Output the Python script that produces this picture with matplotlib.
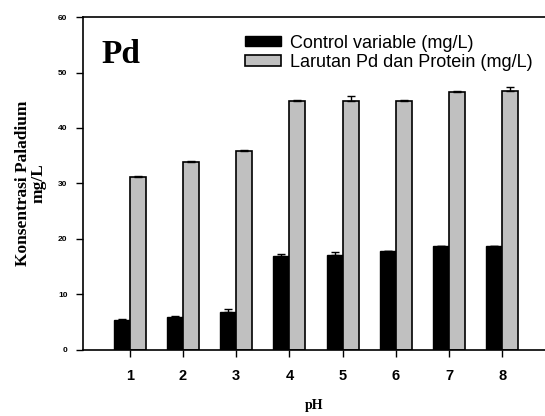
import numpy as np
import matplotlib
matplotlib.use('Agg')
import matplotlib.pyplot as plt

ph = [1, 2, 3, 4, 5, 6, 7, 8]
control = [5.4, 6.0, 6.8, 17.0, 17.1, 17.8, 18.7, 18.7]
control_err = [0.1, 0.1, 0.6, 0.2, 0.5, 0.1, 0.1, 0.1]
larutan = [31.1, 33.8, 35.9, 44.9, 44.9, 44.9, 46.4, 46.7]
larutan_err = [0.2, 0.3, 0.1, 0.2, 0.9, 0.2, 0.2, 0.6]

x = np.array(ph)
w = 0.3

fig = plt.figure(figsize=(5.45, 4.16), dpi=100)
ax = fig.add_axes([0.152, 0.159, 0.848, 0.8])

ax.bar(x - w/2, control, w, color='black', edgecolor='black', lw=1,
       yerr=[np.zeros(8), control_err], capsize=3, error_kw=dict(lw=1, capthick=1),
       label='Control variable (mg/L)')
ax.bar(x + w/2, larutan, w, color='#c0c0c0', edgecolor='black', lw=1.2,
       yerr=[np.zeros(8), larutan_err], capsize=3, error_kw=dict(lw=1, capthick=1),
       label='Larutan Pd dan Protein (mg/L)')

ax.set_xlim(0.12, 8.8)
ax.set_ylim(0, 60)
ax.set_xticks(ph)
ax.set_xticklabels([str(p) for p in ph], fontfamily='Liberation Sans', fontweight='bold', fontsize=10.5)
ax.set_yticks(np.arange(0, 61, 10))
ax.set_yticklabels([str(v) for v in range(0, 61, 10)], fontfamily='Liberation Sans', fontweight='bold', fontsize=6)
ax.tick_params(axis='x', length=5, width=1, pad=9)
ax.tick_params(axis='y', length=5, width=1, pad=6)
ax.spines['right'].set_visible(False)
for s in ['left', 'bottom', 'top']:
    ax.spines[s].set_linewidth(1.2)

ax.set_xlabel('pH', fontfamily='Liberation Serif', fontweight='bold', fontsize=10, labelpad=11)
ax.set_ylabel('Konsentrasi Paladium\nmg/L', fontfamily='Liberation Serif', fontweight='bold',
              fontsize=12.5, labelpad=8, linespacing=1.0)

ax.text(0.04, 0.935, 'Pd', transform=ax.transAxes, fontfamily='Liberation Serif',
        fontweight='bold', fontsize=24, va='top', ha='left')

leg = ax.legend(loc='upper right', bbox_to_anchor=(1.0, 0.985), frameon=False,
                prop=dict(family='Liberation Sans', size=13), handlelength=2.0,
                handleheight=0.5, labelspacing=0.12, handletextpad=0.5, borderaxespad=0.3)

fig.savefig('out.png', dpi=100)
